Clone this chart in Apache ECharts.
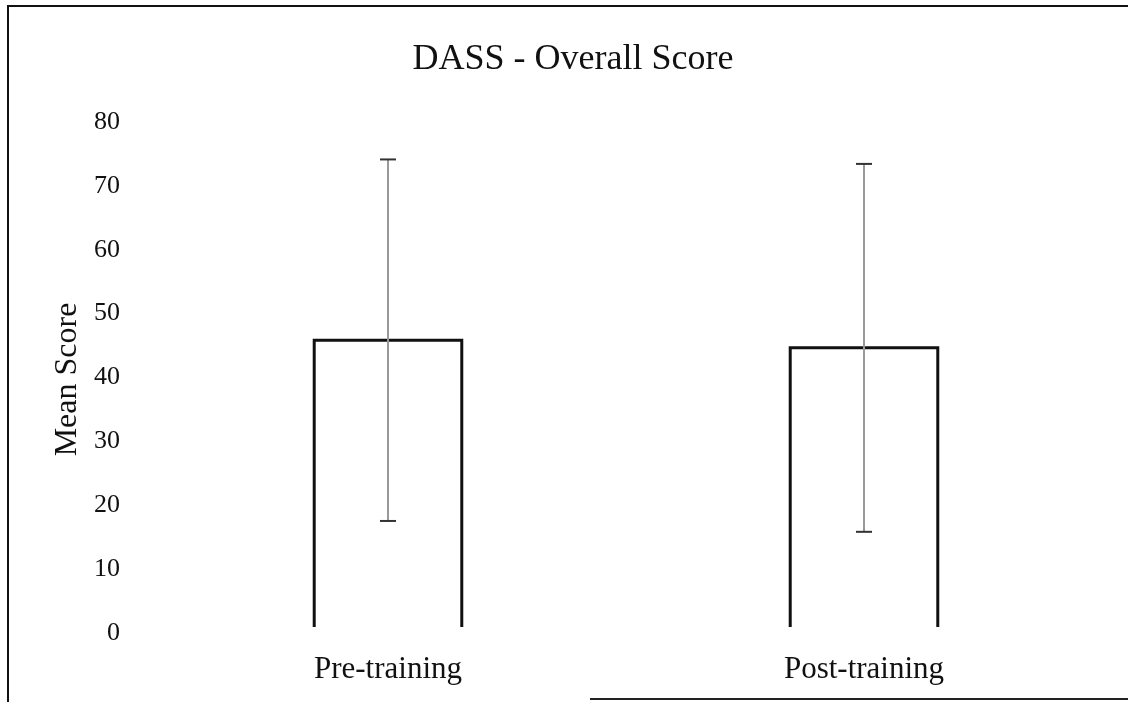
<!DOCTYPE html>
<html>
<head>
<meta charset="utf-8">
<script src="https://cdn.jsdelivr.net/npm/echarts@6/dist/echarts.min.js"></script>
<style>
html,body{margin:0;padding:0;background:#fff;}
#frameL{position:absolute;left:7px;top:5px;width:2px;height:697px;background:#111;}
#frameT{position:absolute;left:7px;top:5px;width:1121px;height:2px;background:#111;}
#frameB{position:absolute;left:590px;top:698px;width:538px;height:2px;background:#222;}
#chart{position:absolute;left:0;top:0;width:1128px;height:702px;}
</style>
</head>
<body>
<div id="frameL"></div>
<div id="frameT"></div>
<div id="frameB"></div>
<div id="chart"></div>
<script>
var categories = ['Pre-training', 'Post-training'];
var meanScores = [44.9, 43.7];
var upperValues = [73.2, 72.5];
var lowerValues = [16.6, 14.9];
var yTicks = [0, 10, 20, 30, 40, 50, 60, 70, 80];

var chart = echarts.init(document.getElementById('chart'), null, {renderer: 'canvas'});
var serif = '"Liberation Serif", "DejaVu Serif", serif';
var barData = categories.map(function (c, i) { return [i, meanScores[i]]; });
var errorData = categories.map(function (c, i) { return [i, lowerValues[i], upperValues[i]]; });

chart.setOption({
  backgroundColor: 'transparent',
  animation: false,
  title: {
    text: 'DASS - Overall Score',
    left: 568,
    textAlign: 'center',
    top: 37,
    textStyle: {fontFamily: serif, fontSize: 36, fontWeight: 'normal', color: '#111'}
  },
  grid: {left: 150, right: 26, top: 116, bottom: 75},
  xAxis: {
    type: 'category',
    data: categories,
    axisLine: {show: false},
    axisTick: {show: false},
    axisLabel: {fontFamily: serif, fontSize: 31, color: '#111', margin: 27}
  },
  yAxis: {
    type: 'value',
    min: yTicks[0],
    max: yTicks[yTicks.length - 1],
    interval: 10,
    name: 'Mean Score',
    nameLocation: 'middle',
    nameGap: 58,
    nameTextStyle: {fontFamily: serif, fontSize: 32, color: '#111', padding: [0, 16, 0, 0]},
    axisLine: {show: false},
    axisTick: {show: false},
    splitLine: {show: false},
    axisLabel: {fontFamily: serif, fontSize: 26, color: '#111', margin: 30, verticalAlign: 'top', lineHeight: 12}
  },
  series: [
    {
      type: 'custom',
      data: barData,
      z: 5,
      renderItem: function (params, api) {
        var x = api.value(0);
        var top = api.coord([x, api.value(1)]);
        var base = api.coord([x, 0]);
        var hw = api.size([1, 0])[0] * 0.31 / 2;
        return {
          type: 'polyline',
          shape: {points: [[top[0] - hw, base[1]], [top[0] - hw, top[1]], [top[0] + hw, top[1]], [top[0] + hw, base[1]]]},
          style: {stroke: '#111', lineWidth: 3, fill: null, lineJoin: 'miter'}
        };
      }
    },
    {
      type: 'custom',
      data: errorData,
      z: 10,
      renderItem: function (params, api) {
        var x = api.value(0);
        var lo = api.coord([x, api.value(1)]);
        var hi = api.coord([x, api.value(2)]);
        var hw = 8;
        return {
          type: 'group',
          children: [
            {type: 'line', shape: {x1: hi[0], y1: hi[1], x2: lo[0], y2: lo[1]}, style: {stroke: '#999', lineWidth: 2}},
            {type: 'line', shape: {x1: hi[0] - hw, y1: hi[1], x2: hi[0] + hw, y2: hi[1]}, style: {stroke: '#333', lineWidth: 2}},
            {type: 'line', shape: {x1: lo[0] - hw, y1: lo[1], x2: lo[0] + hw, y2: lo[1]}, style: {stroke: '#333', lineWidth: 2}}
          ]
        };
      }
    }
  ]
});
</script>
</body>
</html>
